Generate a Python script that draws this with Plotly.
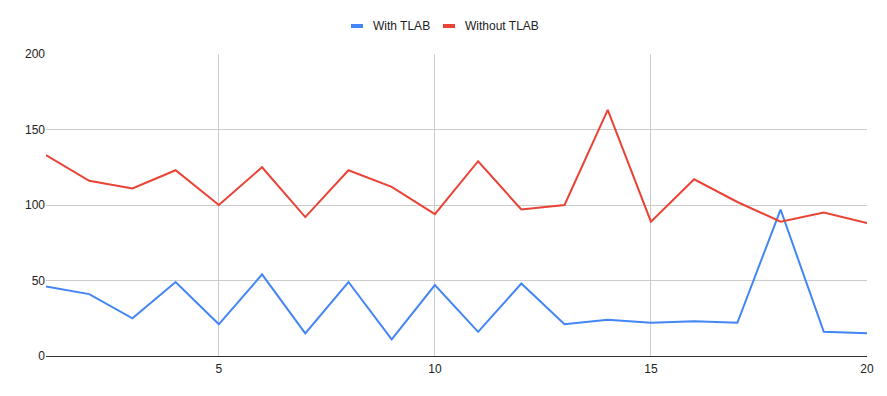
import plotly.graph_objects as go

x_vals = list(range(1, 21))
with_tlab = [46, 41, 25, 49, 21, 54, 15, 49, 11, 47, 16, 48, 21, 24, 22, 23, 22, 97, 16, 15]
without_tlab = [133, 116, 111, 123, 100, 125, 92, 123, 112, 94, 129, 97, 100, 163, 89, 117, 102, 89, 95, 88]
series_names = ["With TLAB", "Without TLAB"]
series_colors = ["#4285F4", "#EA4335"]

W, H = 887, 396
L, R, T, B = 46, 20, 54, 40
pw, ph = W - L - R, H - T - B

def px_x(p):
    return (p - L) / pw

def px_y(p):
    return (H - B - p) / ph

fig = go.Figure()
for name, vals, col in zip(series_names, [with_tlab, without_tlab], series_colors):
    fig.add_trace(go.Scatter(x=x_vals, y=vals, mode="lines", name=name,
                             line=dict(color=col, width=2), showlegend=False))

# custom legend matching the reference (short rectangle swatches)
legend_pos = [(351, 371), (443, 463)]
for (sx, tx), name, col in zip(legend_pos, series_names, series_colors):
    fig.add_shape(type="rect", xref="paper", yref="paper",
                  x0=px_x(sx), x1=px_x(sx + 12), y0=px_y(28), y1=px_y(24),
                  fillcolor=col, line=dict(width=0))
    fig.add_annotation(xref="paper", yref="paper", x=px_x(tx), y=px_y(26),
                       xanchor="left", yanchor="middle", text=name, showarrow=False,
                       font=dict(size=12, color="#222222"))

fig.update_layout(
    width=W, height=H,
    margin=dict(l=L, r=R, t=T, b=B),
    paper_bgcolor="white", plot_bgcolor="white",
    font=dict(family="Liberation Sans, Arial, sans-serif", size=12, color="#222222"),
    showlegend=False,
)
fig.update_xaxes(range=[1, 20], tick0=0, dtick=5, showgrid=True, gridcolor="#cccccc",
                 gridwidth=1, zeroline=False, showline=False, ticks="",
                 ticklabelstandoff=4,
                 tickfont=dict(size=12, color="#222222"))
fig.update_yaxes(range=[0, 200], dtick=50, showgrid=True, gridcolor="#cccccc",
                 gridwidth=1, zeroline=True, zerolinecolor="#333333", zerolinewidth=1,
                 showline=False, ticks="", tickfont=dict(size=12, color="#222222"))

fig.write_html("out.html")
